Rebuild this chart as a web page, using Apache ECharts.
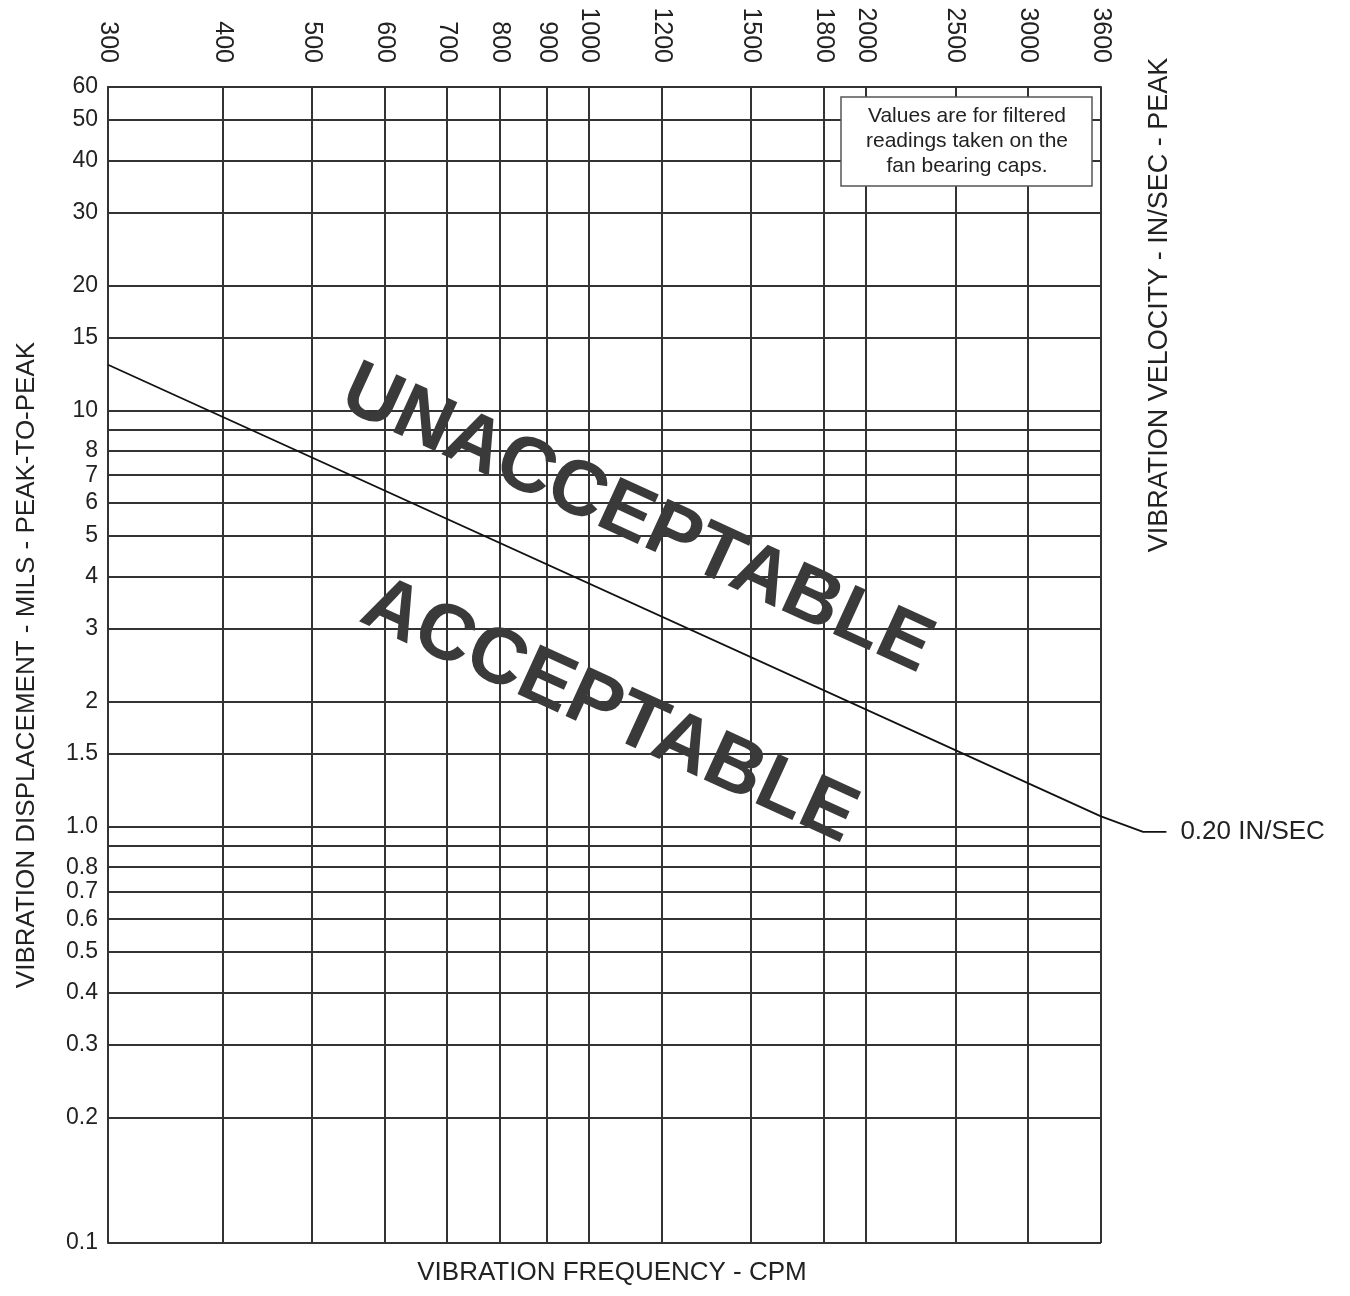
<!DOCTYPE html>
<html>
<head>
<meta charset="utf-8">
<script src="https://cdn.jsdelivr.net/npm/echarts@6/dist/echarts.min.js"></script>
<style>html,body{margin:0;padding:0;background:#fff}#c{width:1350px;height:1296px}</style>
</head>
<body>
<div id="c"></div>
<script>
// Frequency axis (CPM) grid/tick values
var xTickValues = [300, 400, 500, 600, 700, 800, 900, 1000, 1200, 1500, 1800, 2000, 2500, 3000, 3600];
// Displacement axis (mils p-p) grid values and labelled values
var yGridValues = [0.1, 0.2, 0.3, 0.4, 0.5, 0.6, 0.7, 0.8, 0.9, 1, 1.5, 2, 3, 4, 5, 6, 7, 8, 9, 10, 15, 20, 30, 40, 50, 60];
var yLabelValues = [0.1, 0.2, 0.3, 0.4, 0.5, 0.6, 0.7, 0.8, 1, 1.5, 2, 3, 4, 5, 6, 7, 8, 10, 15, 20, 30, 40, 50, 60];
var yLabelTexts = ['0.1', '0.2', '0.3', '0.4', '0.5', '0.6', '0.7', '0.8', '1.0', '1.5', '2', '3', '4', '5', '6', '7', '8', '10', '15', '20', '30', '40', '50', '60'];
// 0.20 in/sec constant-velocity line (frequency, displacement), incl. leader past the chart edge
var limitFreq = [300, 3600, 4000, 4240];
var limitDisp = [12.9, 1.06, 0.973, 0.973];
var limitLabel = '0.20 IN/SEC';
var noteLines = ['Values are for filtered', 'readings taken on the', 'fan bearing caps.'];

var FONT = '"Liberation Sans", Arial, sans-serif';
var TXT = '#222';
var GRIDC = '#333';

function yFmt(v) {
  for (var i = 0; i < yLabelValues.length; i++) {
    if (Math.abs(v - yLabelValues[i]) / yLabelValues[i] < 1e-6) return yLabelTexts[i];
  }
  return '';
}

var chart = echarts.init(document.getElementById('c'), null, {renderer: 'canvas'});
chart.setOption({
  animation: false,
  backgroundColor: '#fff',
  grid: [
    {left: 108, right: 249, top: 87, bottom: 53},
    // same scale as grid 0, extended to the right so the leader to the label can be drawn
    {left: 108, right: 178, top: 87, bottom: 53}
  ],
  xAxis: [{
    type: 'log', logBase: 10, min: 300, max: 3600, position: 'top', gridIndex: 0,
    axisLine: {show: true, lineStyle: {color: GRIDC, width: 2}},
    axisTick: {show: false, customValues: xTickValues},
    axisLabel: {customValues: xTickValues, rotate: 90, margin: 24, fontSize: 25, color: TXT, fontFamily: FONT, formatter: function (v) { return String(Math.round(v)); }},
    splitLine: {show: true, lineStyle: {color: GRIDC, width: 2}},
    minorSplitLine: {show: false}
  }, {
    type: 'log', logBase: 10, min: 300, max: 4300, gridIndex: 1, show: false
  }],
  yAxis: [{
    type: 'log', logBase: 10, min: 0.1, max: 60, gridIndex: 0,
    name: 'VIBRATION DISPLACEMENT - MILS - PEAK-TO-PEAK', nameLocation: 'middle', nameGap: 68, nameRotate: 90,
    nameTextStyle: {fontSize: 26, color: TXT, fontFamily: FONT},
    axisLine: {show: true, lineStyle: {color: GRIDC, width: 2}},
    axisTick: {show: false, customValues: yGridValues},
    axisLabel: {customValues: yLabelValues, margin: 10, fontSize: 23, color: TXT, fontFamily: FONT, formatter: yFmt},
    splitLine: {show: true, lineStyle: {color: GRIDC, width: 2}}
  }, {
    type: 'log', logBase: 10, min: 0.1, max: 60, gridIndex: 1, show: false
  }],
  series: [{
    type: 'line', xAxisIndex: 1, yAxisIndex: 1,
    data: limitFreq.map(function (f, i) { return [f, limitDisp[i]]; }),
    symbol: 'none', clip: false,
    lineStyle: {color: '#111', width: 1.8},
    endLabel: {show: true, formatter: limitLabel, fontSize: 26, color: TXT, fontFamily: FONT, distance: 14},
    z: 5
  }],
  graphic: [
    {type: 'text', x: 1160, y: 305, rotation: Math.PI / 2, z: 10,
      style: {text: 'VIBRATION VELOCITY - IN/SEC - PEAK', font: '27px ' + FONT, fill: TXT, textAlign: 'center', textVerticalAlign: 'middle'}},
    {type: 'text', x: 612, y: 1273, z: 10,
      style: {text: 'VIBRATION FREQUENCY - CPM', font: '26px ' + FONT, fill: TXT, textAlign: 'center', textVerticalAlign: 'middle'}},
    {type: 'rect', shape: {x: 841, y: 97, width: 251, height: 89}, z: 10,
      style: {fill: '#fff', stroke: '#555', lineWidth: 1.5}},
    {type: 'text', x: 967, y: 104, z: 11,
      style: {text: noteLines.join('\n'), font: '21px ' + FONT, fill: TXT, textAlign: 'center', textVerticalAlign: 'top', lineHeight: 25}},
    {type: 'text', x: 637, y: 520, rotation: -0.43, z: 12,
      style: {text: 'UNACCEPTABLE', font: 'bold 78px ' + FONT, fill: '#3a3a3a', textAlign: 'center', textVerticalAlign: 'middle'}},
    {type: 'text', x: 609, y: 712, rotation: -0.43, z: 12,
      style: {text: 'ACCEPTABLE', font: 'bold 79px ' + FONT, fill: '#3a3a3a', textAlign: 'center', textVerticalAlign: 'middle'}}
  ]
});
</script>
</body>
</html>
